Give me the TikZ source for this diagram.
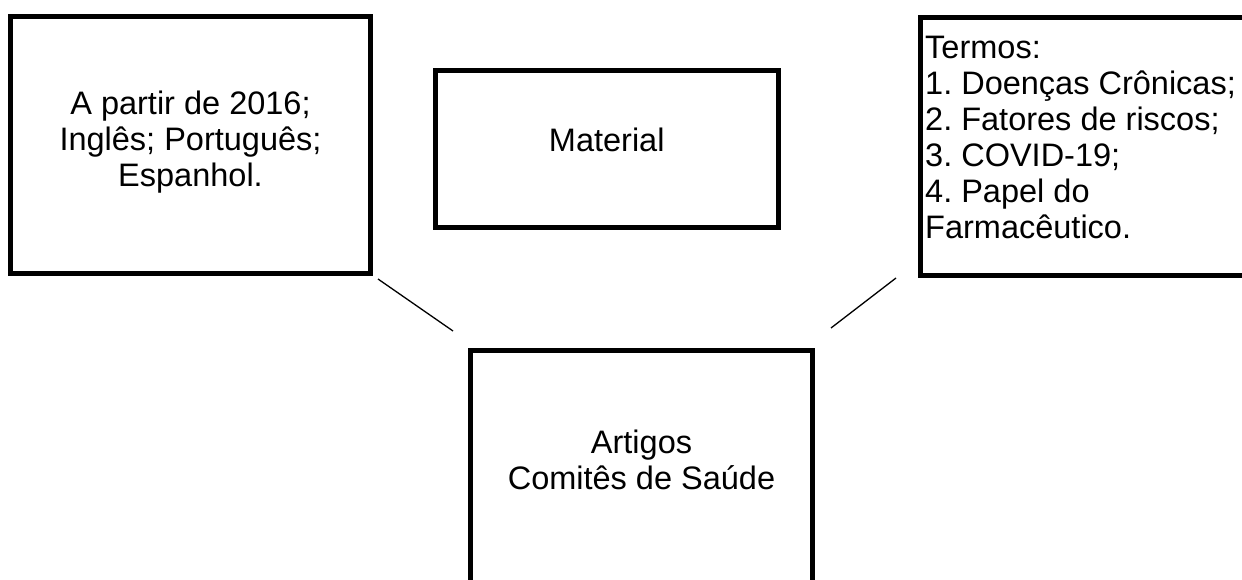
\documentclass[tikz,border=0pt]{standalone}
\usepackage{fontspec}
\setmainfont{Liberation Sans}
\frenchspacing
\begin{document}
\begin{tikzpicture}[x=1pt,y=-1pt,
  box/.style={draw=black,line width=5pt,rectangle,inner sep=0pt,outer sep=0pt},
  txt/.style={font=\fontsize{32.5}{36}\selectfont,align=center,inner sep=0pt},
  ltxt/.style={font=\fontsize{32.5}{36}\selectfont,align=left,inner sep=0pt},
  link/.style={draw=black,line width=1.3pt}]
\useasboundingbox (0,0) rectangle (1242,580);
\clip (0,0) rectangle (1242,580);
\fill[white] (0,0) rectangle (1242,580);
% boxes
\node[box,minimum width=360pt,minimum height=256.5pt] (lbox) at (190.5,145.25) {};
\node[txt] (ltext) at (190.5,142.5) {A partir de 2016;\\Inglês; Português;\\Espanhol.};
\node[box,minimum width=342.5pt,minimum height=157.5pt] (mbox) at (606.75,149.25) {};
\node[txt] (mtext) at (606.75,140) {Material};
\node[box,minimum width=340pt,minimum height=257.5pt] (rbox) at (1090,146.25) {};
\node[ltxt,anchor=west] (rtext) at (925,137) {Termos:\\1. Doenças Crônicas;\\2. Fatores de riscos;\\3. COVID-19;\\4. Papel do\\Farmacêutico.};
\node[box,minimum width=342pt,minimum height=270pt] (bbox) at (641.5,485) {};
\node[txt] (btext) at (641.5,460) {Artigos\\Comitês de Saúde};
% connectors
\coordinate (l1) at (378,279);
\coordinate (l2) at (453,331);
\coordinate (r1) at (896,278);
\coordinate (r2) at (831,328);
\draw[link] (l1) -- (l2);
\draw[link] (r1) -- (r2);
\end{tikzpicture}
\end{document}
